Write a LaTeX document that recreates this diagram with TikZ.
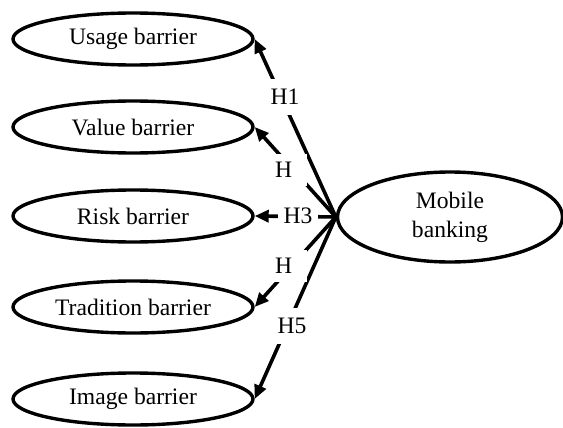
\documentclass[tikz,border=0pt]{standalone}
\usepackage{fontspec}
\setmainfont{Liberation Serif}
\usetikzlibrary{arrows.meta}
\usetikzlibrary{shapes.geometric}

\begin{document}
\begin{tikzpicture}[x=0.5pt, y=-0.5pt,
		barrier/.style={draw, ellipse, line width=1.7pt, inner sep=0pt, minimum width=120pt, minimum height=26pt, font=\fontsize{11.8}{14.5}\selectfont},
		hyp/.style={-{Triangle[length=7pt,width=6pt]}, line width=1.8pt},
		hbox/.style={fill=white, inner xsep=3pt, inner ysep=4pt, font=\fontsize{11.8}{14.5}\selectfont},
		hcut/.style={hbox, text width=13pt, align=left}]
		\useasboundingbox (0,0) rectangle (563,428);
		\node[barrier] (usage) at (133,39) {Usage barrier};
		\node[barrier] (value) at (133,127) {Value barrier};
		\node[barrier] (risk) at (133,216) {Risk barrier};
		\node[barrier] (tradition) at (133,307) {Tradition barrier};
		\node[barrier] (image) at (133,399) {Image barrier};
		\node[barrier, minimum width=112.5pt, minimum height=45pt, align=center] (mobile) at (450,217) {Mobile\\banking};
		
		\draw[hyp] (mobile.west) -- (usage.east);
		\draw[hyp] (mobile.west) -- (value.east);
		\draw[hyp] (mobile.west) -- (risk.east);
		\draw[hyp] (mobile.west) -- (tradition.east);
		\draw[hyp] (mobile.west) -- (image.east);
		
		\node[hbox, inner ysep=5pt] (h1) at (285,97) {H1};
		\node[hcut] (h2) at (288,170) {H};
		\node[hbox] (h3) at (298,216) {H3};
		\node[hcut] (h4) at (288,266) {H};
		\node[hbox, inner ysep=5pt] (h5) at (292,326) {H5};
		
		\end{tikzpicture}
\end{document}
